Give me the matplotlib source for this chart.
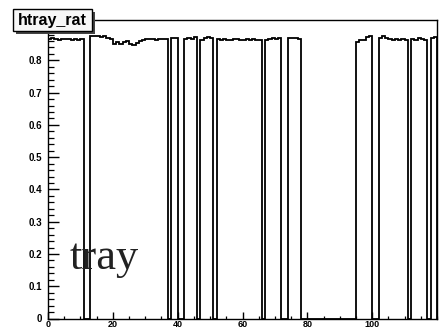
import numpy as np
import matplotlib
matplotlib.use("Agg")
import matplotlib.pyplot as plt
from matplotlib.patches import Rectangle
from matplotlib.ticker import MultipleLocator, FixedLocator

# ---- data: htray_rat per tray bin (0..119) ----
bin_edges = list(range(0, 121))
tray_ratio = [
    # 0-10
    0.866, 0.868, 0.866, 0.862, 0.865, 0.867, 0.866, 0.864, 0.866, 0.862, 0.866,
    # 11-12
    0.0, 0.0,
    # 13-19
    0.876, 0.874, 0.875, 0.872, 0.874, 0.870, 0.866,
    # 20-28
    0.852, 0.858, 0.850, 0.856, 0.860, 0.851, 0.848, 0.855, 0.860,
    # 29-36
    0.864, 0.866, 0.865, 0.866, 0.864, 0.866, 0.866, 0.865,
    # 37
    0.0,
    # 38-39
    0.870, 0.868,
    # 40-41
    0.0, 0.0,
    # 42-45
    0.866, 0.868, 0.866, 0.872,
    # 46
    0.0,
    # 47-50
    0.862, 0.870, 0.872, 0.870,
    # 51
    0.0,
    # 52-65
    0.866, 0.864, 0.866, 0.862, 0.864, 0.866, 0.866, 0.864, 0.862, 0.866, 0.864, 0.866, 0.862, 0.864,
    # 66
    0.0,
    # 67-71
    0.864, 0.866, 0.868, 0.866, 0.868,
    # 72-73
    0.0, 0.0,
    # 74-77
    0.868, 0.868, 0.868, 0.866,
    # 78-94
    0.0, 0.0, 0.0, 0.0, 0.0, 0.0, 0.0, 0.0, 0.0, 0.0, 0.0, 0.0, 0.0, 0.0, 0.0, 0.0, 0.0,
    # 95-99
    0.858, 0.862, 0.864, 0.872, 0.874,
    # 100-101
    0.0, 0.0,
    # 102-110
    0.870, 0.874, 0.868, 0.866, 0.864, 0.866, 0.864, 0.866, 0.864,
    # 111
    0.0,
    # 112-116
    0.866, 0.864, 0.868, 0.866, 0.864,
    # 117
    0.0,
    # 118-119
    0.870, 0.872,
]
x_tick_labels = ["0", "20", "40", "60", "80", "100"]
y_tick_labels = ["0", "0.1", "0.2", "0.3", "0.4", "0.5", "0.6", "0.7", "0.8"]
hist_title = "htray_rat"
annotation = "tray"

W, H = 442, 329
fig = plt.figure(figsize=(W / 100, H / 100), dpi=100)
ax = fig.add_axes([48 / W, 1 - 318.5 / H, (437 - 48) / W, (318.5 - 20) / H])

ax.stairs(tray_ratio, bin_edges, color="black", linewidth=1.3, baseline=0)

ax.set_xlim(0, 120)
ax.set_ylim(0, 0.925)

# ticks (ROOT style: inward, bottom/left only)
ax.xaxis.set_major_locator(FixedLocator([0, 20, 40, 60, 80, 100]))
ax.xaxis.set_minor_locator(MultipleLocator(5))
ax.set_xticklabels(x_tick_labels)
ax.yaxis.set_major_locator(FixedLocator([i / 10 for i in range(9)]))
ax.yaxis.set_minor_locator(MultipleLocator(0.02))
ax.set_yticklabels(y_tick_labels)

ax.tick_params(axis="x", which="major", direction="in", length=5, width=1.0, pad=1,
               top=False, labelsize=6.5)
ax.tick_params(axis="x", which="minor", direction="in", length=2.5, width=0.9, top=False)
ax.tick_params(axis="y", which="major", direction="in", length=8, width=1.0, pad=4,
               right=False, labelsize=7)
ax.tick_params(axis="y", which="minor", direction="in", length=4.3, width=0.9, right=False)
for lab in ax.get_xticklabels() + ax.get_yticklabels():
    lab.set_fontweight("bold")
    lab.set_fontfamily("Liberation Sans")
for sp in ax.spines.values():
    sp.set_linewidth(1.0)

# title box with shadow
bx, by, bw, bh = 13, 9, 79, 22
fig.add_artist(Rectangle(((bx + 3) / W, 1 - (by + 3 + bh) / H), bw / W, bh / H,
                         transform=fig.transFigure, facecolor="#444444",
                         edgecolor="none", zorder=10))
fig.add_artist(Rectangle((bx / W, 1 - (by + bh) / H), bw / W, bh / H,
                         transform=fig.transFigure, facecolor="#f7f7f7",
                         edgecolor="black", linewidth=1.0, zorder=11))
fig.text((bx + bw / 2) / W, 1 - (by + bh / 2) / H, hist_title, ha="center", va="center",
         fontsize=11.5, fontweight="bold", family="Liberation Sans", zorder=12)

# overlay annotation
fig.text(70 / W, 1 - 269 / H, annotation, fontsize=32, family="Liberation Serif",
         color="#222222", va="baseline", ha="left", zorder=12)

fig.savefig("out.png", dpi=100)
